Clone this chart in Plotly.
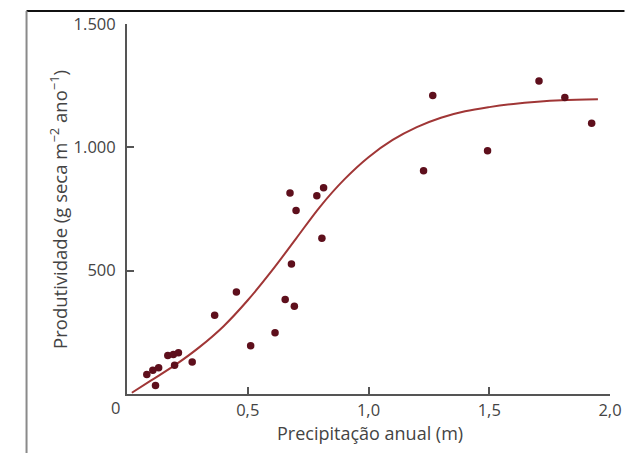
import plotly.graph_objects as go

# Observed data points (annual precipitation in m, productivity in g dry m^-2 yr^-1)
precip = [0.082, 0.107, 0.131, 0.118, 0.169, 0.192, 0.213, 0.197, 0.270, 0.363,
          0.453, 0.512, 0.613, 0.655, 0.693, 0.681, 0.675, 0.700, 0.786, 0.814,
          0.807, 1.228, 1.266, 1.493, 1.706, 1.813, 1.924]
productivity = [79, 96, 106, 34, 156, 160, 167, 117, 130, 319,
                414, 196, 248, 383, 356, 527, 815, 744, 804, 836,
                631, 905, 1210, 986, 1269, 1202, 1098]

# Fitted curve
curve_x = [0.02, 0.10, 0.20, 0.30, 0.40, 0.50, 0.60, 0.70, 0.80, 0.90,
           1.00, 1.10, 1.20, 1.30, 1.40, 1.50, 1.60, 1.70, 1.80, 1.95]
curve_y = [5, 55, 118, 190, 275, 380, 500, 630, 760, 870,
           960, 1030, 1082, 1120, 1146, 1163, 1176, 1185, 1191, 1195]

x_tickvals = [0.5, 1.0, 1.5, 2.0]
x_ticktext = ["0,5", "1,0", "1,5", "2,0"]
y_tickvals = [500, 1000, 1500]
y_ticktext = ["500", "1.000", "1.500"]

FONT = "Open Sans"
TXT = "#444444"
AX = "#555555"
TICK_SIZE = 16.5
TITLE_SIZE = 18

fig = go.Figure()
fig.add_trace(go.Scatter(x=curve_x, y=curve_y, mode="lines",
                         line=dict(color="#a03636", width=2, shape="spline",
                                   smoothing=1.0, simplify=False),
                         hoverinfo="skip", showlegend=False))
fig.add_trace(go.Scatter(x=precip, y=productivity, mode="markers",
                         marker=dict(color="#5e0f1c", size=7.5),
                         showlegend=False))

fig.update_layout(
    width=633, height=453,
    margin=dict(l=127, r=11, t=24, b=58.5),
    paper_bgcolor="white", plot_bgcolor="white",
    font=dict(family=FONT, size=TICK_SIZE, color=TXT),
    xaxis=dict(range=[0, 2.0], showgrid=False, zeroline=False,
               showline=True, linecolor=AX, linewidth=2,
               ticks="inside", ticklen=7, tickwidth=1.5, tickcolor=AX,
               tickvals=x_tickvals, ticktext=x_ticktext,
               ticklabeloverflow="allow", ticklabelstandoff=0,
               tickfont=dict(family=FONT, size=TICK_SIZE, color=TXT)),
    yaxis=dict(range=[0, 1500], showgrid=False, zeroline=False,
               showline=True, linecolor=AX, linewidth=2,
               ticks="inside", ticklen=7, tickwidth=1.5, tickcolor=AX,
               tickvals=y_tickvals, ticktext=y_ticktext,
               ticklabelstandoff=6,
               tickfont=dict(family=FONT, size=TICK_SIZE, color=TXT)),
    annotations=[
        dict(text="0", xref="paper", yref="paper", x=-0.024, y=-0.036,
             xanchor="center", yanchor="middle", showarrow=False,
             font=dict(family=FONT, size=TICK_SIZE, color=TXT)),
        dict(text="Precipitação anual (m)", xref="paper", yref="paper",
             x=0.504, y=-0.106, xanchor="center", yanchor="middle", showarrow=False,
             font=dict(family=FONT, size=TITLE_SIZE, color=TXT)),
        dict(text="Produtividade (g seca m<sup>−2</sup> ano<sup>−1</sup>)",
             xref="paper", yref="paper", x=-0.143, y=0.50, textangle=-90,
             xanchor="center", yanchor="middle", showarrow=False,
             font=dict(family=FONT, size=TITLE_SIZE + 0.5, color=TXT)),
    ],
    shapes=[
        dict(type="line", xref="paper", yref="paper", x0=-0.208, x1=1.03,
             y0=1.035, y1=1.035, line=dict(color="#111111", width=2)),
        dict(type="line", xref="paper", yref="paper", x0=-0.208, x1=-0.208,
             y0=1.035, y1=-0.2, line=dict(color="#8a8a8a", width=2)),
    ],
)

fig.write_html("out.html", config={"displayModeBar": False},
               post_script="document.body.style.margin='0px';")
